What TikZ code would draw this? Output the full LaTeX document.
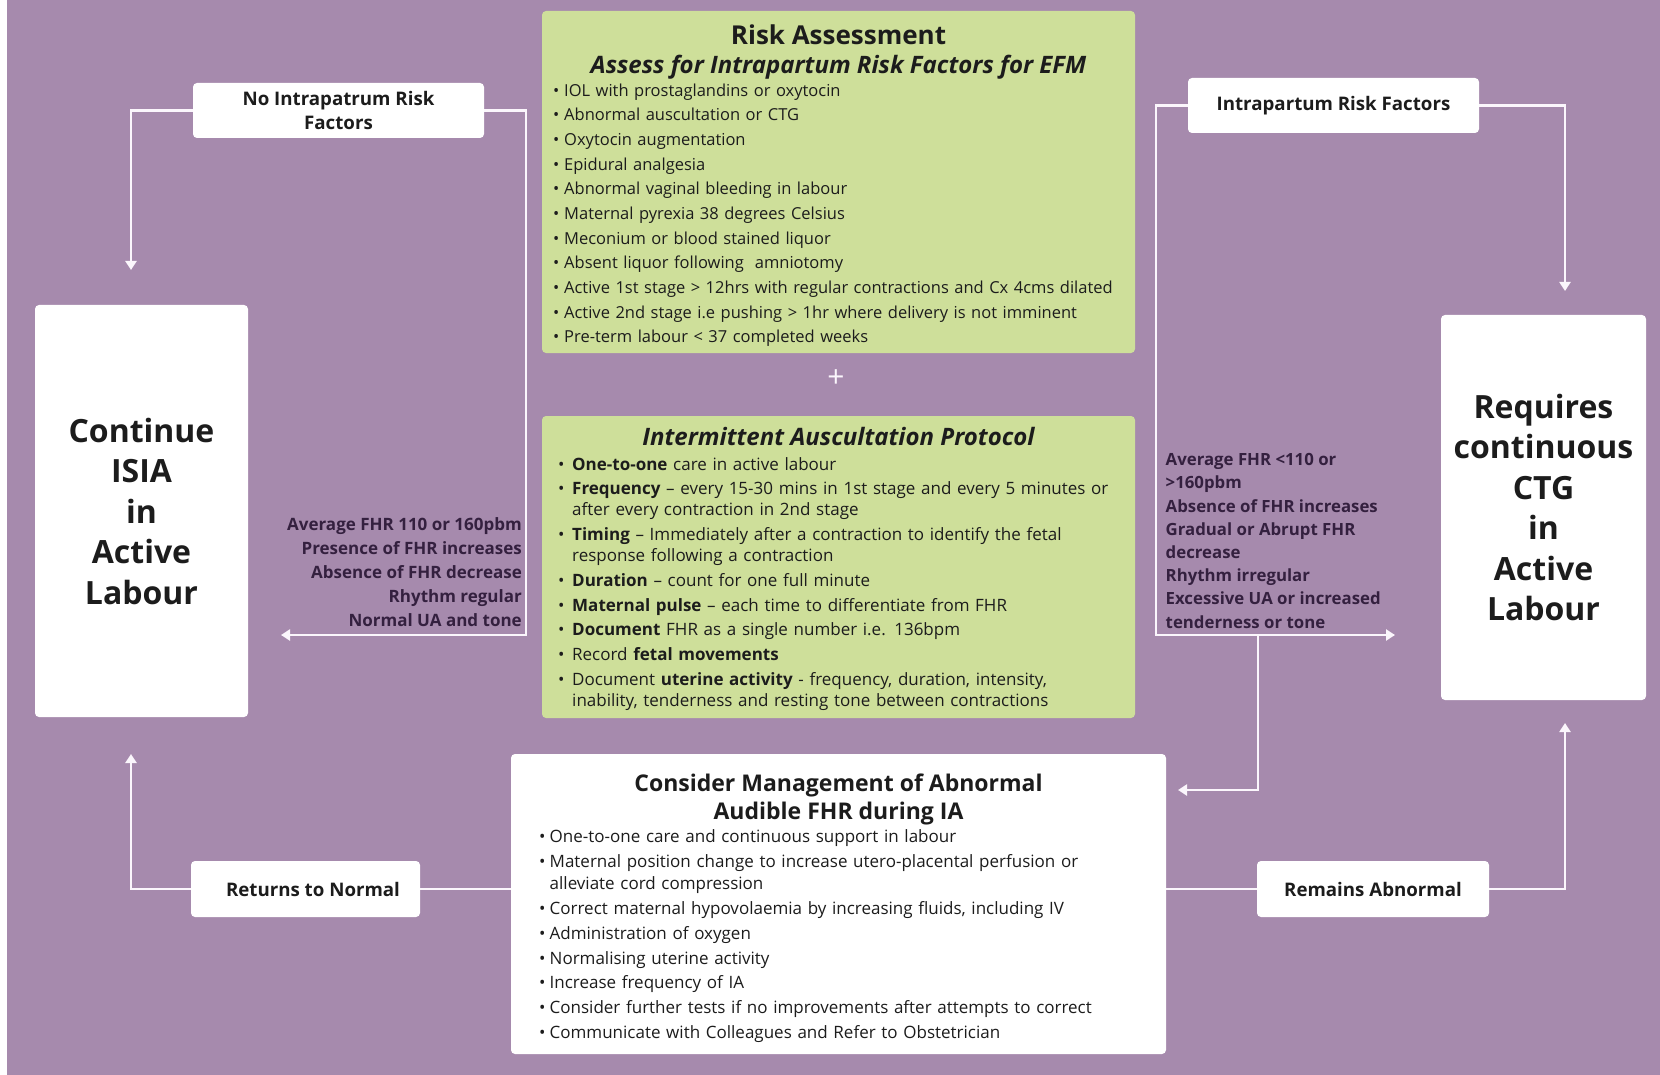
\documentclass[tikz,border=0pt]{standalone}
\usepackage{fontspec}
\setmainfont{Open Sans}
\usetikzlibrary{arrows.meta}
\pgfdeclarelayer{base}
\pgfdeclarelayer{wires}
\pgfsetlayers{base,wires,main}

\definecolor{plum}{HTML}{A68AAD}
\definecolor{lime}{HTML}{CEDF9A}
\definecolor{ink}{HTML}{1C1C1C}
\definecolor{critink}{HTML}{34203F}
\definecolor{wire}{HTML}{FBF6FC}

% bullet paragraph with hanging indent
\newcommand{\bitem}[2][11pt]{\hangindent=#1\hangafter=1\noindent\makebox[#1][l]{\textbullet}#2\par}

\begin{document}
\begin{tikzpicture}[x=1pt,y=-1pt,
  panel/.style={rectangle, rounded corners=4pt, inner sep=0pt, draw=none},
  greenpanel/.style={panel, fill=lime},
  whitepanel/.style={panel, fill=white},
  tag/.style={whitepanel, text=ink, align=center, font=\fontsize{18.7}{23.3}\selectfont\bfseries},
  outcome/.style={whitepanel, text=ink, align=center, font=\fontsize{32}{40.5}\selectfont\bfseries},
  txt/.style={inner sep=0pt, text=ink, align=left},
  crit/.style={inner sep=0pt, text=critink},
  wireline/.style={draw=wire, line width=2.6pt},
  tip/.style={wireline, -{Triangle[width=11pt,length=9pt]}}
]
\useasboundingbox (0,0) rectangle (1660,1075);
\begin{pgfonlayer}{base}
  \fill[plum] (0,0) rectangle (1660,1075);
  \fill[white] (0,0) rectangle (7,1075);
\end{pgfonlayer}

% central panels
\node[greenpanel, minimum width=593pt, minimum height=342pt] (risk) at (838.5,182) {};
\node[greenpanel, minimum width=593pt, minimum height=302pt] (iap) at (838.5,567) {};
\node[whitepanel, minimum width=655pt, minimum height=300pt] (mgmt) at (838.5,904) {};

% outcome panels
\node[outcome, minimum width=213pt, minimum height=412pt, text depth=0pt] (isia) at (141.5,511)
  {\rule{0pt}{2pt}Continue\\ISIA\\in\\Active\\Labour};
\node[outcome, minimum width=205pt, minimum height=385pt] (ctg) at (1543.5,507.5)
  {\rule{0pt}{2pt}Requires\\continuous\\CTG\\in\\Active\\Labour};

% decision tags
\node[tag, minimum width=291pt, minimum height=55pt] (noRisk) at (338.5,110.5)
  {No Intrapatrum Risk\\Factors};
\node[tag, minimum width=291pt, minimum height=55pt] (yesRisk) at (1333.5,105.5)
  {Intrapartum Risk Factors};
\node[tag, minimum width=229pt, minimum height=56pt] (normal) at (305.5,889)
  {\hspace*{15pt}Returns to Normal};
\node[tag, minimum width=232pt, minimum height=56pt] (abnormal) at (1373,889)
  {Remains Abnormal};

% risk assessment content
\node[txt, anchor=north, font=\fontsize{26}{30}\selectfont\bfseries] (riskTitle) at (838.5,25)
  {Risk Assessment};
\node[txt, anchor=north, font=\fontsize{24}{28}\selectfont\bfseries\itshape] (riskSub) at (838.5,54.6)
  {Assess for Intrapartum Risk Factors for EFM};
\node[txt, anchor=north west, text width=575pt, font=\fontsize{16.5}{24.67}\selectfont] (riskList) at (553,83.4)
  {\setlength{\parskip}{0pt}%
   \bitem{IOL with prostaglandins or oxytocin}%
   \bitem{Abnormal auscultation or CTG}%
   \bitem{Oxytocin augmentation}%
   \bitem{Epidural analgesia}%
   \bitem{Abnormal vaginal bleeding in labour}%
   \bitem{Maternal pyrexia 38 degrees Celsius}%
   \bitem{Meconium or blood stained liquor}%
   \bitem{Absent liquor following\ \ amniotomy}%
   \bitem{Active 1st stage > 12hrs with regular contractions and Cx 4cms dilated}%
   \bitem{Active 2nd stage i.e pushing > 1hr where delivery is not imminent}%
   \bitem{Pre-term labour < 37 completed weeks}};

\node[text=wire, inner sep=0pt, font=\fontsize{30}{30}\selectfont] (plus) at (836,379) {+};

% intermittent auscultation content
\node[txt, anchor=north, font=\fontsize{24}{28}\selectfont\bfseries\itshape] (iapTitle) at (838.5,427)
  {Intermittent Auscultation Protocol};
\node[txt, anchor=north west, text width=600pt, font=\fontsize{17}{21.2}\selectfont] (iapList) at (558,456.9)
  {\setlength{\parskip}{3.5pt}%
   \bitem[14pt]{\textbf{One-to-one} care in active labour}%
   \bitem[14pt]{\textbf{Frequency} -- every 15-30 mins in 1st stage and every 5 minutes or\newline after every contraction in 2nd stage}%
   \bitem[14pt]{\textbf{Timing} -- Immediately after a contraction to identify the fetal\newline response following a contraction}%
   \bitem[14pt]{\textbf{Duration} -- count for one full minute}%
   \bitem[14pt]{\textbf{Maternal pulse} -- each time to differentiate from FHR}%
   \bitem[14pt]{\textbf{Document} FHR as a single number i.e. 136bpm}%
   \bitem[14pt]{Record \textbf{fetal movements}}%
   \bitem[14pt]{Document \textbf{uterine activity} - frequency, duration, intensity,\newline inability, tenderness and resting tone between contractions}};

% management content
\node[txt, anchor=north, align=center, font=\fontsize{23}{28}\selectfont\bfseries] (mgmtTitle) at (838.5,773.5)
  {Consider Management of Abnormal\\Audible FHR during IA};
\node[txt, anchor=north west, text width=620pt, font=\fontsize{17}{22.2}\selectfont] (mgmtList) at (539,829.6)
  {\setlength{\parskip}{2.6pt}%
   \bitem[10.5pt]{One-to-one care and continuous support in labour}%
   \bitem[10.5pt]{Maternal position change to increase utero-placental perfusion or\newline alleviate cord compression}%
   \bitem[10.5pt]{Correct maternal hypovolaemia by increasing fluids, including IV}%
   \bitem[10.5pt]{Administration of oxygen}%
   \bitem[10.5pt]{Normalising uterine activity}%
   \bitem[10.5pt]{Increase frequency of IA}%
   \bitem[10.5pt]{Consider further tests if no improvements after attempts to correct}%
   \bitem[10.5pt]{Communicate with Colleagues and Refer to Obstetrician}};

% criteria beside the decision lines
\node[crit, anchor=north east, align=right, font=\fontsize{17}{24}\selectfont\bfseries] (critNormal) at (522,517.7)
  {Average FHR 110 or 160pbm\\Presence of FHR increases\\Absence of FHR decrease\\Rhythm regular\\Normal UA and tone};
\node[crit, anchor=north west, align=left, font=\fontsize{16.8}{23.2}\selectfont\bfseries] (critAbnormal) at (1165.5,453.3)
  {Average FHR <110 or\\>160pbm\\Absence of FHR increases\\Gradual or Abrupt FHR\\decrease\\Rhythm irregular\\Excessive UA or increased\\tenderness or tone};

% free ends and bends of the connectors
\coordinate (isiaIn) at (131,270);
\coordinate (bendL) at (526,635);
\coordinate (isiaSide) at (281,635);
\coordinate (ctgIn) at (1565,291);
\coordinate (bendR) at (1156,635);
\coordinate (ctgSide) at (1395,635);
\coordinate (split) at (1258,635);
\coordinate (mgmtIn) at (1178,790);
\coordinate (isiaBack) at (131,754);
\coordinate (ctgBack) at (1565,723);

\begin{pgfonlayer}{wires}
  \draw[tip] (noRisk.west) -| (isiaIn);
  \draw[tip] (noRisk.east) -| (bendL) -- (isiaSide);
  \draw[tip] (yesRisk.east) -| (ctgIn);
  \draw[tip] (yesRisk.west) -| (bendR) -- (ctgSide);
  \draw[tip] (split) |- (mgmtIn);
  \draw[tip] (mgmt.west |- normal.west) -| (isiaBack);
  \draw[tip] (mgmt.east |- abnormal.east) -| (ctgBack);
\end{pgfonlayer}
\end{tikzpicture}
\end{document}
